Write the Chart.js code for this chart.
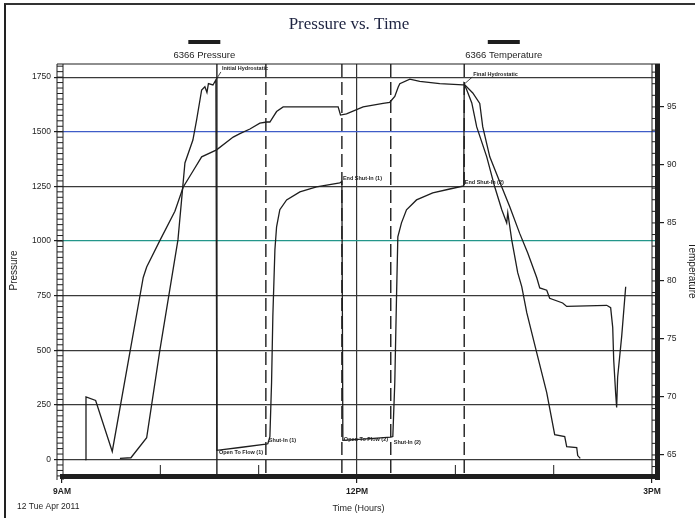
<!DOCTYPE html>
<html>
<head>
<meta charset="utf-8">
<title>Pressure vs. Time</title>
<script src="https://cdn.jsdelivr.net/npm/chart.js@4.4.1/dist/chart.umd.min.js"></script>
<style>
    html, body { margin: 0; padding: 0; background: #fff; overflow: hidden; }
    #wrap { position: relative; width: 695px; height: 518px; overflow: hidden; }
    #chart { display: block; }
    #frame { position: absolute; left: 4px; top: 3px; right: -4px; bottom: -4px;
             border-left: 2px solid #222; border-top: 2px solid #333; pointer-events: none; }
</style>
</head>
<body>
<div id="wrap">
    <canvas id="chart" width="698" height="518"></canvas>
    <div id="frame"></div>
</div>
<script>

// gauge 6366, 12 Tue Apr 2011 - time in decimal hours
const pressureHours = [9.589, 9.701, 9.861, 9.996, 10.179, 10.216, 10.250, 10.331, 10.369, 10.420,
    10.453, 10.474, 10.489, 10.535, 10.565, 10.575, 10.809, 11.073, 11.093, 11.114,
    11.131, 11.144, 11.165, 11.182, 11.215, 11.284, 11.419, 11.588, 11.825, 11.846,
    11.856, 12.130, 12.343, 12.364, 12.384, 12.401, 12.415, 12.452, 12.503, 12.605,
    12.770, 12.943, 13.085, 13.090, 13.116, 13.167, 13.217, 13.319, 13.400, 13.472,
    13.522, 13.533, 13.573, 13.634, 13.675, 13.726, 13.827, 13.929, 14.010, 14.112,
    14.132, 14.234, 14.244, 14.270];
const pressurePsi = [5, 8, 100, 503, 1005, 1188, 1357, 1462, 1554, 1691,
    1706, 1680, 1720, 1714, 1737, 42, 55, 70, 72, 105,
    352, 654, 960, 1065, 1143, 1188, 1225, 1248, 1266, 1272,
    88, 96, 102, 105, 352, 731, 1019, 1083, 1143, 1188,
    1220, 1238, 1252, 1718, 1691, 1632, 1522, 1385, 1248, 1143,
    1083, 1129, 1005, 855, 791, 672, 489, 306, 114, 105,
    59, 55, 18, 5];

const tempHours = [9.234, 9.244, 9.342, 9.511, 9.826, 9.861, 9.996, 10.148, 10.233, 10.334,
    10.420, 10.572, 10.741, 10.809, 10.911, 11.012, 11.083, 11.114, 11.182, 11.249,
    11.808, 11.832, 11.893, 12.062, 12.265, 12.333, 12.384, 12.418, 12.435, 12.537,
    12.638, 12.841, 13.078, 13.096, 13.177, 13.248, 13.278, 13.350, 13.472, 13.553,
    13.654, 13.736, 13.827, 13.858, 13.929, 13.959, 14.091, 14.132, 14.539, 14.579,
    14.600, 14.610, 14.630, 14.640, 14.650, 14.691, 14.732];
const tempF = [64.6, 70.0, 69.7, 65.3, 80.3, 81.2, 83.5, 86.0, 88.1, 89.5,
    90.7, 91.3, 92.4, 92.7, 93.1, 93.6, 93.7, 93.7, 94.6, 95.0,
    95.0, 94.3, 94.4, 95.0, 95.3, 95.4, 95.9, 96.7, 97.0, 97.4,
    97.2, 97.0, 96.9, 96.9, 96.2, 95.3, 93.3, 90.7, 88.1, 86.4,
    84.1, 82.4, 80.3, 79.4, 79.2, 78.5, 78.1, 77.8, 77.9, 77.7,
    76.0, 73.2, 70.3, 69.1, 71.7, 75.2, 79.5];

// test events
const eventNames = ['Initial Hydrostatic', 'Open To Flow (1)', 'Shut-In (1)', 'End Shut-In (1)',
    'Open To Flow (2)', 'Shut-In (2)', 'End Shut-In (2)', 'Final Hydrostatic'];
const eventHours = [10.565, 10.575, 11.073, 11.846, 11.856, 12.343, 13.085, 13.090];
const eventPsi = [1737, 42, 70, 1272, 88, 102, 1252, 1718];
const markerHours = [10.575, 11.073, 11.846, 12.343, 13.090];

// axes
const xTickValues = [9, 12, 15];
const xTickLabels = ['9AM', '12PM', '3PM'];
const dateLabel = '12 Tue Apr 2011';

const INK = '#1e1e1e';
const SANS = "'Liberation Sans', Arial, sans-serif";


function toPoints(xs, ys) {
    return xs.map((x, i) => ({ x: x, y: ys[i] }));
}

function gridColor(c) {
    const v = c.tick.value;
    if (v === 1500) return '#3f5cc8';
    if (v === 1000) return '#23968a';
    return '#3a3a3a';
}


const gaugePlugin = {
    id: 'gauge',

    // dashed event lines, under the curves
    beforeDatasetsDraw(chart, args, opts) {
        const { ctx, chartArea: a, scales: { x } } = chart;
        ctx.save();
        ctx.strokeStyle = INK;
        ctx.lineWidth = 1.4;
        markerHours.forEach((h, i) => {
            const px = x.getPixelForValue(h);
            ctx.setLineDash(opts.markerDash[i] ? [13, 5] : []);
            ctx.beginPath();
            ctx.moveTo(px, a.top);
            ctx.lineTo(px, a.bottom);
            ctx.stroke();
        });
        ctx.restore();
    },

    // small event labels
    afterDatasetsDraw(chart, args, opts) {
        const { ctx, scales: { x, y } } = chart;
        ctx.save();
        ctx.fillStyle = INK;
        ctx.strokeStyle = INK;
        ctx.lineWidth = 0.8;
        ctx.font = 'bold 5.5px ' + SANS;
        ctx.textBaseline = 'middle';
        eventNames.forEach((name, i) => {
            const px = x.getPixelForValue(eventHours[i]);
            const py = y.getPixelForValue(eventPsi[i]);
            const [dx, dy] = opts.labelOffsets[i];
            if (opts.leader[i]) {
                ctx.beginPath();
                ctx.moveTo(px, py);
                ctx.lineTo(px + dx - 1, py + dy + 3);
                ctx.stroke();
            }
            ctx.fillText(name, px + dx, py + dy);
        });
        ctx.restore();
    },

    // rulers, legend, date
    afterDraw(chart, args, opts) {
        const { ctx, chartArea: a, scales: { x, y, y1 } } = chart;
        ctx.save();
        ctx.strokeStyle = INK;
        ctx.fillStyle = INK;

        // top edge
        ctx.lineWidth = 1.2;
        ctx.beginPath();
        ctx.moveTo(a.left - 5, a.top);
        ctx.lineTo(a.right + 5, a.top);
        ctx.stroke();

        // left ladder ruler
        ctx.lineWidth = 1;
        ctx.beginPath();
        ctx.moveTo(a.left - 5, a.top);
        ctx.lineTo(a.left - 5, a.bottom + 3);
        ctx.moveTo(a.left + 1, a.top);
        ctx.lineTo(a.left + 1, a.bottom + 3);
        for (let v = -75; v <= 1800; v += 25) {
            const py = y.getPixelForValue(v);
            ctx.moveTo(a.left - 5, py);
            ctx.lineTo(a.left + 1, py);
        }
        ctx.stroke();

        // right ruler
        ctx.fillRect(a.right, a.top, 5, a.bottom - a.top + 3);
        ctx.beginPath();
        ctx.moveTo(a.right - 3, a.top);
        ctx.lineTo(a.right - 3, a.bottom);
        for (let v = 64; v <= 98; v++) {
            const py = y1.getPixelForValue(v);
            ctx.moveTo(a.right - 3, py);
            ctx.lineTo(a.right, py);
        }
        ctx.stroke();

        // bottom bar + hour ticks
        ctx.fillRect(a.left - 2, a.bottom - 3, a.right - a.left + 7, 5);
        ctx.lineWidth = 1;
        ctx.beginPath();
        [10, 11, 13, 14].forEach(h => {
            const px = x.getPixelForValue(h);
            ctx.moveTo(px, a.bottom - 3);
            ctx.lineTo(px, a.bottom - 12);
        });
        ctx.stroke();

        // legend: bar above label
        ctx.font = '9.5px ' + SANS;
        ctx.textAlign = 'center';
        ctx.textBaseline = 'middle';
        chart.data.datasets.forEach((ds, i) => {
            const cx = a.left + (a.right - a.left) * opts.legendAt[i];
            ctx.fillRect(cx - 16, 40, 32, 4);
            ctx.fillText(ds.label, cx, 55);
        });

        // date under 9AM
        ctx.font = '8.5px ' + SANS;
        ctx.textAlign = 'left';
        ctx.fillText(dateLabel, x.getPixelForValue(9) - 45, 507);
        ctx.restore();
    }
};


function initChart() {

    Chart.defaults.font.family = SANS;
    Chart.defaults.color = INK;

    return new Chart(document.getElementById('chart'), {
        type: 'line',
        data: {
            datasets: [
                {
                    label: '6366 Pressure',
                    data: toPoints(pressureHours, pressurePsi),
                    yAxisID: 'y',
                    borderColor: INK,
                    borderWidth: 1.3,
                    pointRadius: 0,
                    tension: 0
                },
                {
                    label: '6366 Temperature',
                    data: toPoints(tempHours, tempF),
                    yAxisID: 'y1',
                    borderColor: INK,
                    borderWidth: 1.3,
                    pointRadius: 0,
                    tension: 0
                }
            ]
        },
        options: {
            responsive: false,
            animation: false,
            layout: { padding: 0 },
            plugins: {
                legend: { display: false },
                tooltip: { enabled: false },
                title: {
                    display: true,
                    text: 'Pressure vs. Time',
                    color: '#1d2340',
                    font: { family: "'Liberation Serif', 'DejaVu Serif', serif", size: 17, weight: 'normal' },
                    padding: { top: 14, bottom: 29.6 }
                },
                gauge: {
                    markerDash: [false, true, true, true, true],
                    labelOffsets: [[6, -11], [2, 2], [3, -4], [1, -3], [1, -1], [3, 5], [1, -3], [9, -10]],
                    leader: [true, false, false, false, false, false, false, true],
                    legendAt: [0.24, 0.745]
                }
            },
            scales: {
                x: {
                    type: 'linear',
                    min: 9,
                    max: 15.03,
                    afterFit: s => { s.height = 41; },
                    border: { display: false },
                    grid: {
                        color: c => c.tick && c.tick.value === 12 ? '#333' : 'rgba(0,0,0,0)',
                        tickColor: c => xTickValues.includes(c.tick.value) ? INK : 'rgba(0,0,0,0)',
                        tickLength: 6,
                        lineWidth: 1.2
                    },
                    ticks: {
                        stepSize: 1,
                        includeBounds: false,
                        autoSkip: false,
                        maxRotation: 0,
                        padding: 4,
                        font: { size: 8.5, weight: 'bold' },
                        callback: v => {
                            const i = xTickValues.indexOf(v);
                            return i >= 0 ? xTickLabels[i] : '';
                        }
                    },
                    title: {
                        display: true,
                        text: 'Time (Hours)',
                        font: { size: 9 },
                        padding: { top: 0, bottom: 4 }
                    }
                },
                y: {
                    position: 'left',
                    min: -80,
                    max: 1810,
                    afterFit: s => { s.width = 62; },
                    border: { display: false },
                    grid: { color: gridColor, lineWidth: 1.2, tickLength: 8, tickColor: INK },
                    ticks: {
                        stepSize: 250,
                        includeBounds: false,
                        padding: 3,
                        font: { size: 8.5 },
                        callback: v => String(v)
                    },
                    title: {
                        display: true,
                        text: 'Pressure',
                        font: { size: 10 },
                        padding: { top: 8, bottom: 0 }
                    }
                },
                y1: {
                    position: 'right',
                    min: 63.1,
                    max: 98.7,
                    afterFit: s => { s.width = 43; },
                    border: { display: false },
                    grid: { drawOnChartArea: false, tickLength: 9, tickColor: INK, lineWidth: 1.2 },
                    ticks: {
                        stepSize: 5,
                        includeBounds: false,
                        padding: 3,
                        font: { size: 8.5 },
                        callback: v => String(v)
                    },
                    title: {
                        display: true,
                        text: 'Temperature',
                        font: { size: 10 },
                        padding: { top: 0, bottom: 0 }
                    }
                }
            }
        },
        plugins: [gaugePlugin]
    });
}

initChart();
</script>
</body>
</html>
